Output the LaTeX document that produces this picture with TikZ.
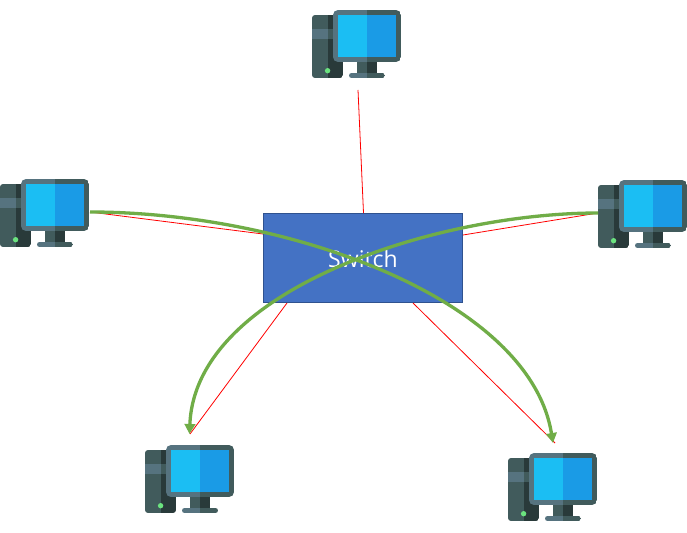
\documentclass[tikz,border=0pt]{standalone}
\usepackage{fontspec}
\setmainfont{Open Sans}
\usetikzlibrary{arrows.meta}
\definecolor{boxfill}{HTML}{4472C4}
\definecolor{boxline}{HTML}{2F528F}
\definecolor{curvegreen}{HTML}{70AD47}
\definecolor{scrA}{HTML}{1BBEF3}
\definecolor{scrB}{HTML}{1A9BE6}
\definecolor{frameA}{HTML}{56737F}
\definecolor{frameB}{HTML}{415B5C}
\definecolor{towerD}{HTML}{293A3A}
\definecolor{ledc}{HTML}{6BE37F}
\tikzset{
  switchbox/.style={draw=boxline,fill=boxfill,line width=0.9pt,minimum width=199pt,minimum height=89pt,inner sep=0pt},
  link/.style={draw=red,line width=0.8pt},
  flow/.style={draw=curvegreen,line width=3.3pt,-{Triangle[length=10pt,width=10.5pt]}},
  computer/.pic={
    % tower
    \begin{scope}
      \clip[rounded corners=3pt] (0,5) rectangle (31,68);
      \fill[frameB] (0,5) rectangle (16,68);
      \fill[towerD] (16,5) rectangle (31,68);
      \fill[frameA] (0,19) rectangle (16,29);
      \fill[frameB] (16,19) rectangle (31,29);
    \end{scope}
    \fill[ledc] (15.6,60.7) circle (2.7);
    % stand
    \fill[frameB] (45,50) rectangle (55,64);
    \fill[towerD] (55,50) rectangle (65,64);
    \begin{scope}
      \clip[rounded corners=2.5pt] (37,63) rectangle (73,68);
      \fill[frameA] (37,63) rectangle (55,68);
      \fill[frameB] (55,63) rectangle (73,68);
    \end{scope}
    % monitor
    \begin{scope}
      \clip[rounded corners=5pt] (21,0) rectangle (89,52);
      \fill[frameA] (21,0) rectangle (55,52);
      \fill[frameB] (55,0) rectangle (89,52);
    \end{scope}
    \fill[scrA] (26,5) rectangle (55,47);
    \fill[scrB] (55,5) rectangle (84,47);
  }
}
\begin{document}
\begin{tikzpicture}[x=1pt,y=-1pt]
\useasboundingbox (0,0) rectangle (687,532);
\fill[white] (0,0) rectangle (687,532);
\pic at (312,10) {computer};
\pic at (0,179) {computer};
\pic at (598,180) {computer};
\pic at (145,445) {computer};
\pic at (508,453) {computer};
\node[switchbox] (sw) at (363,258) {};
\coordinate (topC) at (358,90);
\coordinate (leftC) at (90,212);
\coordinate (rightC) at (598,213);
\coordinate (blC) at (190,434);
\coordinate (brC) at (555,443);
\coordinate (swT) at (363.5,213);
\coordinate (swL) at (263,234);
\coordinate (swR) at (463,235);
\coordinate (swBL) at (287,303);
\coordinate (swBR) at (413,303);
\draw[link] (topC) -- (swT);
\draw[link] (leftC) -- (swL);
\draw[link] (rightC) -- (swR);
\draw[link] (swBL) -- (blC);
\draw[link] (swBR) -- (brC);
\node[text=white,font=\fontsize{23}{23}\selectfont,inner sep=0pt] (lbl) at (363,259) {Switch};
\draw[flow] (leftC) .. controls (290,212) and (530,300) .. (553,443);
\draw[flow] (rightC) .. controls (435,213) and (195,290) .. (189.5,434);
\end{tikzpicture}
\end{document}
